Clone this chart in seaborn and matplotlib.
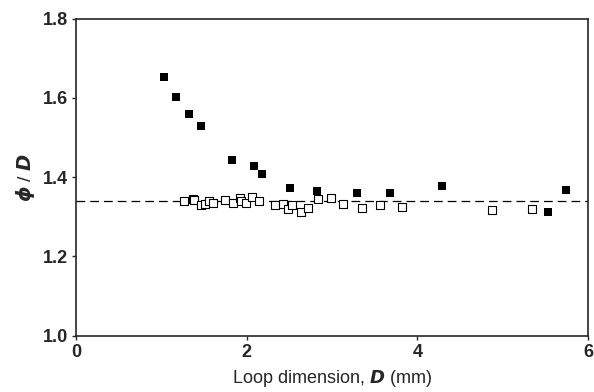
import numpy as np
import pandas as pd
import matplotlib
matplotlib.use('Agg')
import matplotlib.pyplot as plt
import seaborn as sns

# filled squares
d_filled = [1.03, 1.17, 1.32, 1.47, 1.83, 2.09, 2.18, 2.51, 2.82, 3.29, 3.68, 4.29, 5.53, 5.74]
r_filled = [1.654, 1.603, 1.560, 1.530, 1.444, 1.429, 1.409, 1.373, 1.364, 1.361, 1.360, 1.377, 1.313, 1.368]

# open squares
d_open = [1.26, 1.37, 1.38, 1.47, 1.51, 1.56, 1.61, 1.75, 1.84, 1.92, 1.93, 1.99, 2.06, 2.14,
          2.33, 2.43, 2.48, 2.53, 2.64, 2.72, 2.83, 2.99, 3.13, 3.35, 3.56, 3.82, 4.87, 5.34]
r_open = [1.339, 1.345, 1.343, 1.329, 1.332, 1.340, 1.335, 1.343, 1.336, 1.347, 1.339, 1.335, 1.350, 1.340,
          1.329, 1.333, 1.320, 1.330, 1.311, 1.322, 1.345, 1.347, 1.333, 1.322, 1.330, 1.324, 1.318, 1.319]

mean_ratio = 1.34

sns.set_style('ticks')
plt.rcParams['font.family'] = ['Liberation Sans Narrow', 'Liberation Sans', 'DejaVu Sans']
plt.rcParams['mathtext.fontset'] = 'custom'
plt.rcParams['mathtext.it'] = 'DejaVu Sans:italic:bold'
plt.rcParams['mathtext.rm'] = 'DejaVu Sans'

filled = pd.DataFrame({'D': d_filled, 'r': r_filled})
opened = pd.DataFrame({'D': d_open, 'r': r_open})

fig = plt.figure(figsize=(5.94, 3.92), dpi=100)
ax = fig.add_axes([0.128, 0.144, 0.862, 0.808])

ax.axhline(mean_ratio, color='black', lw=0.9, ls=(0, (7, 4)), zorder=1)
sns.scatterplot(data=opened, x='D', y='r', ax=ax, marker='s', s=38,
                facecolor='white', edgecolor='black', linewidth=0.8, zorder=2)
sns.scatterplot(data=filled, x='D', y='r', ax=ax, marker='s', s=32,
                color='black', edgecolor='black', linewidth=0, zorder=3)

ax.set_xlim(0, 6)
ax.set_ylim(1.0, 1.8)
ax.set_xticks([0, 2, 4, 6])
ax.set_yticks([1.0, 1.2, 1.4, 1.6, 1.8])
ax.set_yticklabels(['1.0', '1.2', '1.4', '1.6', '1.8'])
ax.tick_params(direction='out', length=3, width=1, labelsize=13, pad=3)
for lab in ax.get_xticklabels() + ax.get_yticklabels():
    lab.set_fontweight('bold')
for sp in ax.spines.values():
    sp.set_linewidth(1.2)
    sp.set_visible(True)

ax.set_xlabel(r'Loop dimension, $D$ (mm)', fontsize=13, labelpad=5)
ax.set_ylabel(r'$\phi$ / $D$', fontsize=14, labelpad=4)

fig.savefig('out.png', dpi=100)
